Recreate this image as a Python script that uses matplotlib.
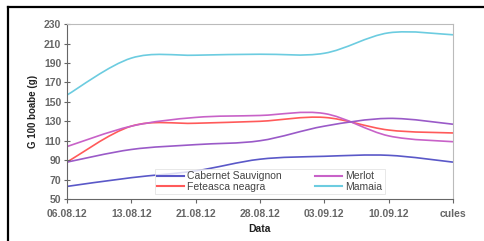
import matplotlib
matplotlib.use("Agg")
import matplotlib.pyplot as plt
from matplotlib.lines import Line2D
from matplotlib.path import Path
from matplotlib.patches import PathPatch

plt.rcParams["font.family"] = ["Liberation Sans", "DejaVu Sans"]

dates = ["06.08.12", "13.08.12", "21.08.12", "28.08.12", "03.09.12", "10.09.12", "cules"]

cabernet = [63, 72, 79, 91, 94, 95, 88]
feteasca = [88, 125, 128, 130, 134, 121, 118]
merlot = [104, 125, 134, 136, 138, 115, 109]
merlot_2 = [88, 101, 106, 110, 125, 133, 127]
mamaia = [157, 195, 198, 199, 200, 221, 219]

series = [
    ("Cabernet Sauvignon", cabernet, "#5a58c8"),
    ("Feteasca neagra", feteasca, "#ff5a5a"),
    ("Merlot", merlot, "#c862c8"),
    ("Mamaia", mamaia, "#6ccce0"),
    (None, merlot_2, "#9a5ac8"),
]


def smooth_path(ys):
    # excel-like smoothed line: cubic bezier through each point
    xs = list(range(len(ys)))
    pts = list(zip(xs, ys))
    verts = [pts[0]]
    codes = [Path.MOVETO]
    n = len(pts)
    for i in range(n - 1):
        p0 = pts[i - 1] if i > 0 else pts[i]
        p1, p2 = pts[i], pts[i + 1]
        p3 = pts[i + 2] if i + 2 < n else pts[i + 1]
        c1 = (p1[0] + (p2[0] - p0[0]) / 6, p1[1] + (p2[1] - p0[1]) / 6)
        c2 = (p2[0] - (p3[0] - p1[0]) / 6, p2[1] - (p3[1] - p1[1]) / 6)
        verts += [c1, c2, p2]
        codes += [Path.CURVE4] * 3
    return Path(verts, codes)


fig = plt.figure(figsize=(4.85, 2.41), dpi=100)
ax = fig.add_axes([0.138, 0.174, 0.796, 0.726])

handles = []
for name, vals, col in series:
    ax.add_patch(PathPatch(smooth_path(vals), facecolor="none", edgecolor=col, lw=1.2))
    if name:
        handles.append(Line2D([], [], color=col, lw=1.5, label=name))

ax.set_xlim(0, len(dates) - 1)
ax.set_ylim(50, 230)
ax.set_yticks(range(50, 231, 20))
ax.set_xticks(range(len(dates)))
ax.set_xticklabels(dates)
ax.tick_params(axis="y", direction="inout", length=4, labelsize=7.5, colors="#666666", pad=2)
ax.tick_params(axis="x", direction="out", length=3, labelsize=7.5, colors="#666666", pad=4)
for lab in ax.get_yticklabels() + ax.get_xticklabels():
    lab.set_fontweight("bold")
for s in ["left", "bottom"]:
    ax.spines[s].set_color("#666666")
for s in ["top", "right"]:
    ax.spines[s].set_color("#bbbbbb")

ax.set_ylabel("G 100 boabe (g)", fontsize=7, fontweight="bold", color="#222222", labelpad=4)
ax.set_xlabel("Data", fontsize=7.5, fontweight="bold", color="#222222", labelpad=4)

# legend order: col1 Cabernet/Feteasca, col2 Merlot/Mamaia
leg = ax.legend(handles=handles, loc="lower left", bbox_to_anchor=(0.215, 0.0), ncol=2,
                fontsize=7.5, frameon=True, fancybox=False, handlelength=2.6,
                handletextpad=0.3, columnspacing=3.2, borderpad=0.2, labelspacing=0.05)
leg.get_frame().set_edgecolor("#dddddd")
leg.get_frame().set_linewidth(0.6)
for t in leg.get_texts():
    t.set_color("#444444")

# outer frame (top and left edges visible)
fig.add_artist(Line2D([0.0155, 1.0], [0.969, 0.969], color="black", lw=1.6,
                      transform=fig.transFigure))
fig.add_artist(Line2D([0.0155, 0.0155], [0.0, 0.969], color="black", lw=1.6,
                      transform=fig.transFigure))

fig.savefig("out.png", dpi=100)
